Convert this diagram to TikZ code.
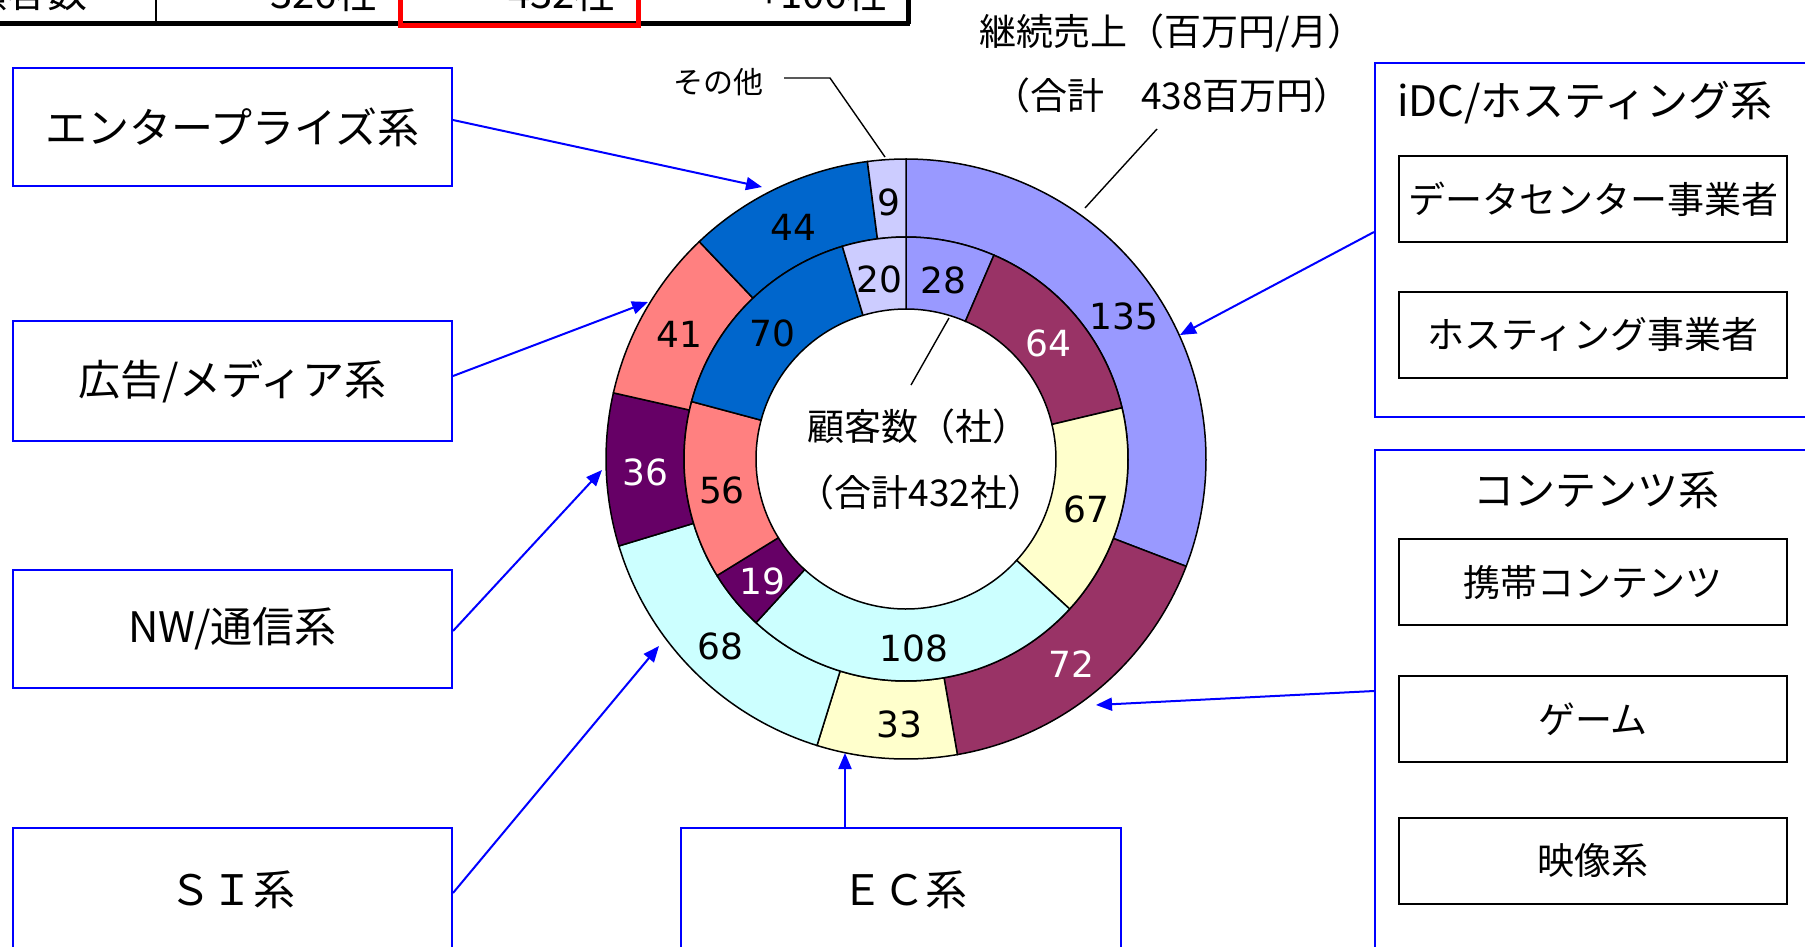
\documentclass[tikz,border=0pt]{standalone}
\usepackage{fontspec}
\setmainfont{Noto Sans CJK JP}
\newfontfamily\numfont{DejaVu Sans}
\usetikzlibrary{arrows.meta,calc}
\definecolor{cA}{HTML}{9999FF}
\definecolor{cB}{HTML}{993366}
\definecolor{cC}{HTML}{FFFFCC}
\definecolor{cD}{HTML}{CCFFFF}
\definecolor{cE}{HTML}{660066}
\definecolor{cF}{HTML}{FF8080}
\definecolor{cG}{HTML}{0066CC}
\definecolor{cH}{HTML}{CCCCFF}
\definecolor{tblue}{HTML}{0000FF}
\definecolor{tred}{HTML}{FF0000}
\tikzset{
  segline/.style={draw=black, line width=1.5pt},
  numlbl/.style={inner sep=0pt, font=\numfont\fontsize{36}{42}\selectfont},
  lbox/.style={draw=tblue, line width=2pt, minimum width=439pt, inner sep=0pt, font=\fontsize{42}{50}\selectfont},
  gbox/.style={draw=tblue, line width=2pt, minimum width=455pt, inner sep=0pt},
  ibox/.style={draw=black, line width=2pt, minimum width=388pt, minimum height=86pt, inner sep=0pt, font=\fontsize{37}{44}\selectfont},
  ttl/.style={inner sep=0pt, font=\fontsize{41}{49}\selectfont},
  ctr/.style={inner sep=0pt, font=\fontsize{37}{44}\selectfont},
  tbl/.style={inner sep=0pt, font=\fontsize{40}{48}\selectfont},
  arr/.style={draw=tblue, line width=2pt, -{Triangle[length=16pt,width=13pt]}},
  lead/.style={draw=black, line width=1.4pt},
}
\newcommand\donutseg[5]{%
  \filldraw[segline, fill=#5] ($(c)+(#1:#4)$) arc[start angle=#1, end angle=#2, radius=#4pt]
    -- ($(c)+(#2:#3)$) arc[start angle=#2, end angle=#1, radius=#3pt] -- cycle;}
\newcommand\seglabel[5]{%
  \node[numlbl, text=#4] (#1) at ($(c)+(#2:#3)+(0,-4)$) {#5};}
\begin{document}
\begin{tikzpicture}[x=1pt,y=1pt]
\useasboundingbox (0,0) rectangle (1805,-946);
\clip (0,0) rectangle (1805,-946);
\fill[white] (0,0) rectangle (1805,-946);

% ---- top table (cut off) ----
\draw[line width=5pt] (0,-23.5) -- (910,-23.5);
\draw[line width=2pt] (156,2) -- (156,-23.5);
\draw[line width=5pt] (908,2) -- (908,-23.5);
\draw[tred, line width=5pt] (400,2) -- (400,-25.5) -- (638.5,-25.5) -- (638.5,2);
\node[tbl, anchor=base east] (t1) at (88,-7) {顧客数};
\node[tbl, anchor=base east] (t2) at (377,-8) {326社};
\node[tbl, anchor=base east] (t3) at (615,-8) {432社};
\node[tbl, anchor=base east] (t4) at (887,-8) {+106社};

% ---- donut ----
\coordinate (c) at (906,-459);
% outer ring: 継続売上
\donutseg{90}{-20.959}{222}{300}{cA}
\donutseg{-20.959}{-80.137}{222}{300}{cB}
\donutseg{-80.137}{-107.260}{222}{300}{cC}
\donutseg{-107.260}{-163.151}{222}{300}{cD}
\donutseg{-163.151}{-192.740}{222}{300}{cE}
\donutseg{-192.740}{-226.438}{222}{300}{cF}
\donutseg{-226.438}{-262.603}{222}{300}{cG}
\donutseg{-262.603}{-270}{222}{300}{cH}
% inner ring: 顧客数
\donutseg{90}{66.667}{150}{222}{cA}
\donutseg{66.667}{13.333}{150}{222}{cB}
\donutseg{13.333}{-42.5}{150}{222}{cC}
\donutseg{-42.5}{-132.5}{150}{222}{cD}
\donutseg{-132.5}{-148.333}{150}{222}{cE}
\donutseg{-148.333}{-195}{150}{222}{cF}
\donutseg{-195}{-253.333}{150}{222}{cG}
\donutseg{-253.333}{-270}{150}{222}{cH}

\seglabel{o1}{34.0}{263}{black}{135}
\seglabel{o2}{-50.55}{261}{white}{72}
\seglabel{o3}{-91.5}{261}{black}{33}
\seglabel{o4}{-135.21}{261}{black}{68}
\seglabel{o5}{-177.95}{261}{white}{36}
\seglabel{o6}{-209.59}{261}{black}{41}
\seglabel{o7}{-244.52}{261}{black}{44}
\seglabel{o8}{-266.30}{261}{black}{9}
\seglabel{i1}{78.33}{186}{black}{28}
\seglabel{i2}{40}{186}{white}{64}
\seglabel{i3}{-14.58}{186}{black}{67}
\seglabel{i4}{-87.5}{186}{black}{108}
\seglabel{i5}{-140.42}{186}{white}{19}
\seglabel{i6}{-171.67}{186}{black}{56}
\seglabel{i7}{-224.17}{186}{black}{70}
\seglabel{i8}{-261.67}{186}{black}{20}

% centre text
\node[ctr] (cnt1) at (918,-426) {顧客数（社）};
\node[ctr] (cnt2) at (921,-492) {（合計432社）};
\coordinate (kA) at (949,-318);
\coordinate (kB) at (911,-385);
\draw[lead] (kA) -- (kB);

% 継続売上 label
\node[ctr] (sales1) at (1172,-33) {継続売上（百万円/月）};
\node[ctr] (sales2) at (1172,-95) {（合計　438百万円）};
\coordinate (uA) at (1157,-129);
\coordinate (uB) at (1085,-208);
\draw[lead] (uA) -- (uB);

% その他
\node[ctr, font=\fontsize{30}{36}\selectfont] (sonota) at (718,-82) {その他};
\coordinate (sB) at (830,-78);
\coordinate (sC) at (885,-157);
\draw[lead] ([xshift=21pt,yshift=4pt]sonota.east) -- (sB) -- (sC);

% ---- left boxes ----
\node[lbox, minimum height=118pt] (ent) at (232.5,-127) {エンタープライズ系};
\node[lbox, minimum height=120pt] (ad) at (232.5,-381) {広告/メディア系};
\node[lbox, minimum height=118pt] (nw) at (232.5,-629) {NW/通信系};
\node[lbox, minimum height=124pt] (si) at (232.5,-890) {ＳＩ系};
\node[lbox, minimum height=124pt, minimum width=440pt] (ec) at (901,-890) {\hspace*{6pt}ＥＣ系};

% ---- right group boxes ----
\node[gbox, minimum height=354pt] (idc) at (1602.5,-240) {};
\node[ttl, anchor=west, font=\fontsize{42}{50}\selectfont] (idct) at (1397,-103) {iDC/ホスティング系};
\node[ibox] (dc) at (1593,-199) {データセンター事業者};
\node[ibox] (host) at (1593,-334.5) {ホスティング事業者};

\node[gbox, minimum height=550pt] (cont) at (1602.5,-725) {};
\node[ttl] (contt) at (1596,-490) {コンテンツ系};
\node[ibox] (mob) at (1593,-582) {携帯コンテンツ};
\node[ibox] (game) at (1593,-719) {ゲーム};
\node[ibox] (video) at (1593,-860.5) {映像系};

% ---- arrows ----
\coordinate (tipEnt) at (762,-187);
\coordinate (tipAd) at (648,-302);
\coordinate (tipNW) at (602,-470);
\coordinate (tipSI) at (659,-646);
\coordinate (tipEC) at (845,-753);
\coordinate (tipIDC) at (1180,-335);
\coordinate (tipCont) at (1096,-705);
\draw[arr] ([yshift=7pt]ent.east) -- (tipEnt);
\draw[arr] ([yshift=5pt]ad.east) -- (tipAd);
\draw[arr] ([yshift=-2pt]nw.east) -- (tipNW);
\draw[arr] ([yshift=-3pt]si.east) -- (tipSI);
\draw[arr] ([xshift=-56pt]ec.north) -- (tipEC);
\draw[arr] ([yshift=8pt]idc.west) -- (tipIDC);
\draw[arr] ([yshift=34pt]cont.west) -- (tipCont);
\end{tikzpicture}
\end{document}
